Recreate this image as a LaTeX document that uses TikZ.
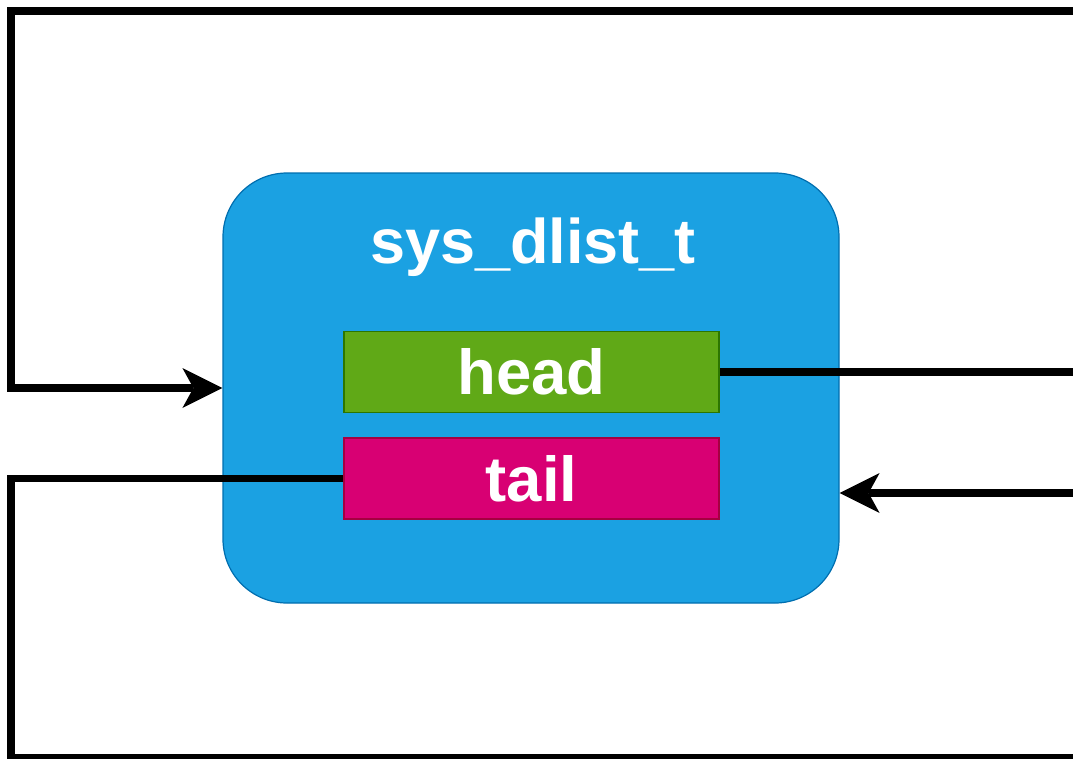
\documentclass[tikz,border=0pt]{standalone}
\usepackage{fontspec}
\setmainfont{Liberation Sans}
\usetikzlibrary{arrows.meta}

\definecolor{listfill}{HTML}{1BA1E2}
\definecolor{listline}{HTML}{006EAF}
\definecolor{headfill}{HTML}{60A917}
\definecolor{headline}{HTML}{2D7600}
\definecolor{tailfill}{HTML}{D80073}
\definecolor{tailline}{HTML}{A50040}

\tikzset{
  container/.style={draw=listline, fill=listfill, line width=1.2pt,
    rounded corners=64pt, minimum width=616pt, minimum height=430pt,
    inner sep=0pt},
  field/.style={line width=1.5pt, minimum width=375pt, minimum height=81pt,
    inner sep=0pt, text=white, font=\fontsize{63.5}{70}\selectfont\bfseries},
  title/.style={text=white, inner sep=0pt,
    font=\fontsize{63}{70}\selectfont\bfseries},
  link/.style={draw=black, line width=7.8pt},
  ptr/.style={link, -{Stealth[length=40pt, width=40pt, inset=11pt, line width=0pt]}}
}

\begin{document}
\begin{tikzpicture}[x=1pt, y=-1pt]
  \useasboundingbox (0,0) rectangle (1073,758);

  % the list structure and its two pointer fields
  \node[container] (list) at (531,388) {};
  \node[title, anchor=base] (name) at (533,263) {sys\_dlist\_t};
  \node[field, fill=headfill, draw=headline] (head) at (531.5,372) {head};
  \node[field, fill=tailfill, draw=tailline] (tail) at (531.5,478.5) {tail};

  % loose ends of the links, off to the right and around the left
  \coordinate (topin)  at (1085,11);
  \coordinate (tl)     at (11,11);
  \coordinate (rin)    at (1085,493);
  \coordinate (bl)     at (11,758);
  \coordinate (botout) at (1085,758);

  % incoming links into the list
  \draw[ptr] (topin) -- (tl) |- (list.west);
  \draw[ptr] (rin) -- (rin -| list.east);

  % outgoing links from head and tail
  \draw[link] (head.east) -- (head.east -| topin);
  \draw[link] (tail.west) -| (bl) -- (botout);
\end{tikzpicture}
\end{document}
